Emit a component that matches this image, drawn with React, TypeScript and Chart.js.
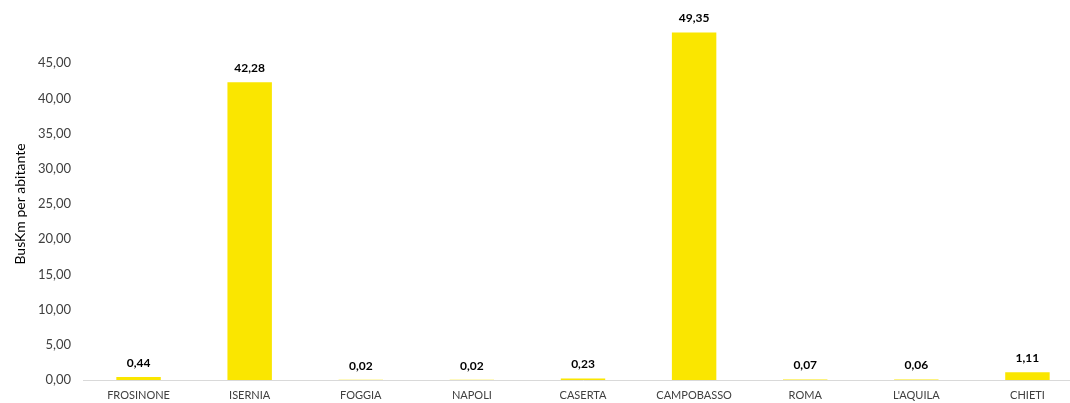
import React, { useEffect, useRef } from "react";
import { Chart, registerables } from "chart.js";

Chart.register(...registerables);

const categories = ["FROSINONE", "ISERNIA", "FOGGIA", "NAPOLI", "CASERTA", "CAMPOBASSO", "ROMA", "L'AQUILA", "CHIETI"];
const values = [0.44, 42.28, 0.02, 0.02, 0.23, 49.35, 0.07, 0.06, 1.11];
const yTitle = "BusKm per abitante";

const fmt = (v: number) => v.toFixed(2).replace(".", ",");

const labelPlugin = {
  id: "barLabels",
  afterDatasetsDraw(chart: any) {
    const { ctx } = chart;
    const meta = chart.getDatasetMeta(0);
    ctx.save();
    ctx.font = "bold 12px Lato, 'Open Sans', sans-serif";
    ctx.fillStyle = "#000";
    ctx.textAlign = "center";
    ctx.textBaseline = "bottom";
    meta.data.forEach((bar: any, i: number) => {
      ctx.fillText(fmt(values[i]), bar.x, bar.y - 8);
    });
    ctx.restore();
  },
};

export default function App() {
  const ref = useRef<HTMLCanvasElement>(null);
  useEffect(() => {
    if (!ref.current) return;
    const chart = new Chart(ref.current, {
      type: "bar",
      data: {
        labels: categories,
        datasets: [
          {
            data: values,
            backgroundColor: "#FAE600",
            barPercentage: 0.4,
            categoryPercentage: 1,
          },
        ],
      },
      options: {
        responsive: false,
        animation: false,
        layout: { padding: { top: 28, left: 0, right: 0, bottom: 0 } },
        plugins: { legend: { display: false }, tooltip: { enabled: false } },
        scales: {
          x: {
            grid: { display: false, drawTicks: false },
            border: { display: true, color: "#D9D9D9", width: 1 },
            ticks: {
              color: "#404040",
              font: { family: "Lato, 'Open Sans', sans-serif", size: 11 },
              padding: 9,
              maxRotation: 0,
              autoSkip: false,
            },
            afterFit: (s: any) => {
              s.height = 23;
            },
          },
          y: {
            min: 0,
            max: 50,
            grid: { display: false, drawTicks: false },
            border: { display: false },
            ticks: {
              stepSize: 5,
              color: "#404040",
              font: { family: "Lato, 'Open Sans', sans-serif", size: 13 },
              padding: 12,
              callback: (v: any) => (v >= 50 ? "" : fmt(Number(v))),
            },
            title: {
              display: true,
              text: yTitle,
              color: "#000",
              font: { family: "Lato, 'Open Sans', sans-serif", size: 14 },
              padding: { top: 12, bottom: 0 },
            },
            afterFit: (s: any) => {
              s.width = 83;
            },
          },
        },
      },
      plugins: [labelPlugin],
    });
    return () => chart.destroy();
  }, []);
  return (
    <div style={{ position: "fixed", left: 0, top: 0, width: 1083, height: 403, background: "#fff" }}>
      <canvas ref={ref} width={1083} height={403} style={{ display: "block" }} />
    </div>
  );
}
